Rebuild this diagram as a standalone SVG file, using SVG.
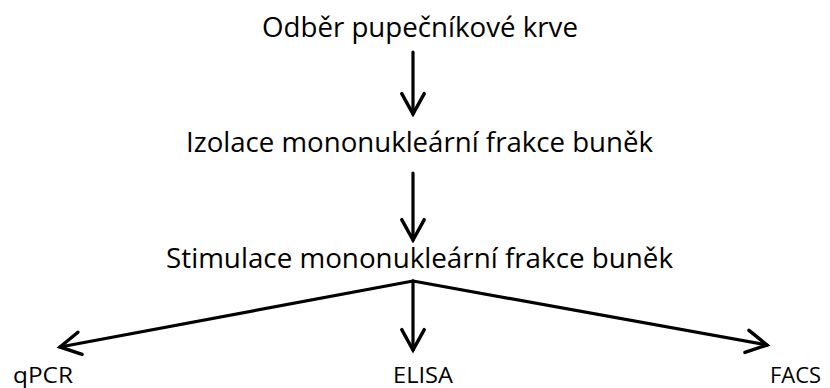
<svg xmlns="http://www.w3.org/2000/svg" width="830" height="388" viewBox="0 0 830 388">
<style>
.t{font-family:"Open Sans","Liberation Sans",sans-serif;fill:#000}
.big{font-size:28px}
.small{font-size:22px}
.c{stroke:#000;stroke-width:3.2;fill:none;stroke-linecap:round}
</style>
<defs>
<marker id="ah" markerUnits="userSpaceOnUse" orient="auto" markerWidth="30" markerHeight="30" refX="0" refY="0" viewBox="-24 -14 28 28" overflow="visible">
<path d="M-19,-10.5 L0,0 L-19,10.5" stroke="#000" stroke-width="3.2" fill="none" stroke-linecap="round" stroke-linejoin="miter"/>
</marker>
</defs>
<rect width="830" height="388" fill="#fff"/>
<g id="n1"><text class="t big" x="262" y="37" textLength="316" lengthAdjust="spacingAndGlyphs">Odběr pupečníkové krve</text></g>
<g id="n2"><text class="t big" x="186" y="152" textLength="467" lengthAdjust="spacingAndGlyphs">Izolace mononukleární frakce buněk</text></g>
<g id="n3"><text class="t big" x="166" y="268" textLength="507" lengthAdjust="spacingAndGlyphs">Stimulace mononukleární frakce buněk</text></g>
<g id="n4"><text class="t small" x="13" y="383" textLength="60" lengthAdjust="spacingAndGlyphs">qPCR</text></g>
<g id="n5"><text class="t small" x="393" y="383" textLength="60" lengthAdjust="spacingAndGlyphs">ELISA</text></g>
<g id="n6"><text class="t small" x="770" y="383" textLength="51" lengthAdjust="spacingAndGlyphs">FACS</text></g>
<g id="connectors">
<line class="c" x1="413" y1="52" x2="413" y2="114" marker-end="url(#ah)"/>
<line class="c" x1="413" y1="173" x2="413" y2="240" marker-end="url(#ah)"/>
<line class="c" x1="413" y1="281" x2="60" y2="347" marker-end="url(#ah)"/>
<line class="c" x1="413" y1="281" x2="413" y2="350" marker-end="url(#ah)"/>
<line class="c" x1="413" y1="281" x2="767" y2="345" marker-end="url(#ah)"/>
</g>
</svg>
